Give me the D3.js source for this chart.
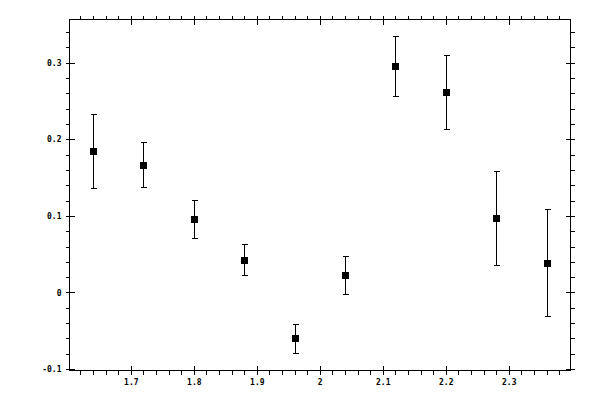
<!DOCTYPE html>
<head>
  <meta http-equiv="Content-Type" content="text/html; charset=utf-8">
  <style>
    body { margin: 0; background: #fff; }
  </style>
</head>
<body></body>
<script src="https://d3js.org/d3.v7.min.js"></script>
<script>

var width = 600,
    height = 400;

// Data
var xVals   = [1.64, 1.72, 1.80, 1.88, 1.96, 2.04, 2.12, 2.20, 2.28, 2.36];
var yVals   = [0.185, 0.167, 0.096, 0.043, -0.060, 0.023, 0.296, 0.262, 0.097, 0.039];
var yErrs   = [0.048, 0.029, 0.025, 0.020, 0.019, 0.025, 0.039, 0.048, 0.061, 0.070];
var xTicks  = [1.7, 1.8, 1.9, 2.0, 2.1, 2.2, 2.3];
var xLabels = ["1.7", "1.8", "1.9", "2", "2.1", "2.2", "2.3"];
var yTicks  = [-0.1, 0, 0.1, 0.2, 0.3];
var yLabels = ["-0.1", "0", "0.1", "0.2", "0.3"];

// plot frame (note: "top" is reserved on window, so use other names)
var fLeft = 69.5, fRight = 570.5, fTop = 19.5, fBottom = 370.5;

var xs = d3.scaleLinear()
    .domain([1.6027, 2.398])
    .range([fLeft, fRight]);
var ys = d3.scaleLinear()
    .domain([-0.1019, 0.3565])
    .range([fBottom, fTop]);

var svg = d3.select("body").append("svg")
    .attr("width", width)
    .attr("height", height);

// minor tick positions every 0.02
var xMinor = d3.range(1.62, 2.40, 0.02).filter(function(v){
  return !xTicks.some(function(t){ return Math.abs(t - v) < 1e-6; });
});
var yMinor = d3.range(-0.10, 0.36, 0.02).filter(function(v){
  return !yTicks.some(function(t){ return Math.abs(t - v) < 1e-6; });
});

var g = svg.append("g").attr("shape-rendering", "crispEdges");

// bottom & top axes
var xfmt = function(d){ return xLabels[xTicks.indexOf(d)]; };
g.append("g").attr("transform", "translate(0," + fBottom + ")")
  .call(d3.axisBottom(xs).tickValues(xTicks).tickFormat(xfmt).tickSize(4).tickSizeOuter(0).tickPadding(5))
  .call(function(a){ a.select(".domain").remove(); a.selectAll(".tick line").attr("y1", -5); });
g.append("g").attr("transform", "translate(0," + fBottom + ")")
  .call(d3.axisBottom(xs).tickValues(xMinor).tickFormat("").tickSize(4).tickSizeOuter(0))
  .call(function(a){ a.select(".domain").remove(); });
g.append("g").attr("transform", "translate(0," + fTop + ")")
  .call(d3.axisTop(xs).tickValues(xTicks).tickFormat("").tickSize(4).tickSizeOuter(0))
  .call(function(a){ a.select(".domain").remove(); a.selectAll(".tick line").attr("y1", 5); });
g.append("g").attr("transform", "translate(0," + fTop + ")")
  .call(d3.axisTop(xs).tickValues(xMinor).tickFormat("").tickSize(4).tickSizeOuter(0))
  .call(function(a){ a.select(".domain").remove(); });

// left & right axes
var yfmt = function(d){ return yLabels[yTicks.indexOf(d)]; };
g.append("g").attr("transform", "translate(" + fLeft + ",0)")
  .call(d3.axisLeft(ys).tickValues(yTicks).tickFormat(yfmt).tickSize(4).tickSizeOuter(0).tickPadding(4))
  .call(function(a){ a.select(".domain").remove(); a.selectAll(".tick line").attr("x1", 5); });
g.append("g").attr("transform", "translate(" + fLeft + ",0)")
  .call(d3.axisLeft(ys).tickValues(yMinor).tickFormat("").tickSize(4).tickSizeOuter(0))
  .call(function(a){ a.select(".domain").remove(); });
g.append("g").attr("transform", "translate(" + fRight + ",0)")
  .call(d3.axisRight(ys).tickValues(yTicks).tickFormat("").tickSize(4).tickSizeOuter(0))
  .call(function(a){ a.select(".domain").remove(); a.selectAll(".tick line").attr("x1", -5); });
g.append("g").attr("transform", "translate(" + fRight + ",0)")
  .call(d3.axisRight(ys).tickValues(yMinor).tickFormat("").tickSize(4).tickSizeOuter(0))
  .call(function(a){ a.select(".domain").remove(); });

svg.selectAll(".tick line").attr("stroke", "#000");
svg.selectAll("g[font-family]")
  .attr("font-family", "DejaVu Sans Mono")
  .attr("font-size", 8);
svg.selectAll(".tick text")
  .attr("fill", "#000")
  .style("font-weight", "bold");

// frame
g.append("rect")
  .attr("x", fLeft).attr("y", fTop)
  .attr("width", fRight - fLeft).attr("height", fBottom - fTop)
  .attr("fill", "none").attr("stroke", "#000");

// Points with error bars
var pts = xVals.map(function(x, i){ return {x: x, y: yVals[i], e: yErrs[i]}; });
var cx = function(d){ return Math.round(xs(d.x)) + 0.5; };
var yHi = function(d){ return Math.round(ys(d.y + d.e)) + 0.5; };
var yLo = function(d){ return Math.round(ys(d.y - d.e)) + 0.5; };

var bars = g.selectAll(".err").data(pts).enter().append("g").attr("class", "err")
  .attr("stroke", "#000");
bars.append("line")
  .attr("x1", cx).attr("x2", cx)
  .attr("y1", yHi).attr("y2", yLo);
bars.append("line")
  .attr("x1", function(d){ return cx(d) - 3; })
  .attr("x2", function(d){ return cx(d) + 3; })
  .attr("y1", yHi).attr("y2", yHi);
bars.append("line")
  .attr("x1", function(d){ return cx(d) - 3; })
  .attr("x2", function(d){ return cx(d) + 3; })
  .attr("y1", yLo).attr("y2", yLo);

g.selectAll(".pt").data(pts).enter().append("rect")
  .attr("class", "pt")
  .attr("x", function(d){ return cx(d) - 3.5; })
  .attr("y", function(d){ return Math.round(ys(d.y)) - 3; })
  .attr("width", 7)
  .attr("height", 7)
  .attr("fill", "#000");

</script>
</html>
